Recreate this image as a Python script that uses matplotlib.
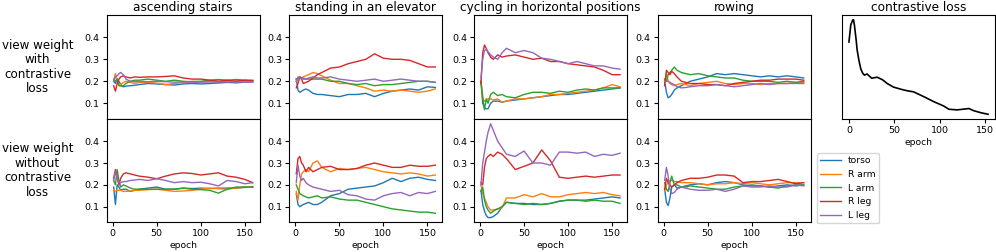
import matplotlib
matplotlib.use("Agg")
import matplotlib.pyplot as plt

# ---------------- data ----------------
epochs = [1, 3, 5, 7, 9, 12, 15, 20, 25, 30, 40, 50, 60, 70, 80, 90, 100, 110, 120, 130, 140, 150, 159]
parts = ["torso", "R arm", "L arm", "R leg", "L leg"]
activities = ["ascending stairs", "standing in an elevator",
              "cycling in horizontal positions", "rowing"]
row_labels = ["view weight\nwith\ncontrastive\nloss",
              "view weight\nwithout\ncontrastive\nloss"]

# order of each list: torso, R arm, L arm, R leg, L leg
stairs_with = [
    [0.2, 0.19, 0.21, 0.2, 0.185, 0.175, 0.178, 0.18, 0.182, 0.185, 0.19, 0.188, 0.185, 0.183, 0.188, 0.19, 0.188, 0.19, 0.192, 0.195, 0.193, 0.196, 0.198],
    [0.2, 0.235, 0.2, 0.18, 0.185, 0.195, 0.2, 0.195, 0.19, 0.195, 0.195, 0.192, 0.185, 0.19, 0.195, 0.2, 0.198, 0.2, 0.2, 0.2, 0.202, 0.2, 0.2],
    [0.21, 0.2, 0.21, 0.18, 0.178, 0.18, 0.19, 0.2, 0.205, 0.205, 0.21, 0.205, 0.2, 0.205, 0.2, 0.198, 0.2, 0.205, 0.208, 0.205, 0.208, 0.205, 0.205],
    [0.18, 0.155, 0.19, 0.21, 0.22, 0.225, 0.22, 0.215, 0.22, 0.218, 0.22, 0.22, 0.222, 0.225, 0.215, 0.21, 0.21, 0.205, 0.2, 0.205, 0.2, 0.205, 0.202],
    [0.2, 0.22, 0.225, 0.235, 0.24, 0.23, 0.21, 0.2, 0.198, 0.2, 0.198, 0.2, 0.198, 0.196, 0.197, 0.196, 0.196, 0.197, 0.196, 0.197, 0.196, 0.196, 0.196],
]
stairs_without = [
    [0.19, 0.11, 0.2, 0.19, 0.175, 0.18, 0.18, 0.17, 0.175, 0.18, 0.185, 0.19, 0.18, 0.18, 0.185, 0.183, 0.185, 0.183, 0.185, 0.185, 0.185, 0.188, 0.19],
    [0.175, 0.17, 0.175, 0.175, 0.175, 0.17, 0.17, 0.172, 0.175, 0.175, 0.178, 0.18, 0.175, 0.17, 0.172, 0.175, 0.18, 0.185, 0.182, 0.18, 0.185, 0.19, 0.19],
    [0.22, 0.2, 0.27, 0.22, 0.19, 0.2, 0.195, 0.185, 0.18, 0.18, 0.18, 0.18, 0.18, 0.18, 0.185, 0.18, 0.178, 0.175, 0.162, 0.18, 0.19, 0.19, 0.19],
    [0.23, 0.27, 0.23, 0.2, 0.23, 0.25, 0.255, 0.25, 0.245, 0.24, 0.235, 0.228, 0.24, 0.25, 0.255, 0.252, 0.245, 0.25, 0.255, 0.24, 0.235, 0.225, 0.21],
    [0.22, 0.26, 0.23, 0.21, 0.21, 0.215, 0.215, 0.22, 0.222, 0.225, 0.22, 0.228, 0.22, 0.21, 0.215, 0.21, 0.212, 0.205, 0.195, 0.22, 0.215, 0.205, 0.21],
]
standing_with = [
    [0.21, 0.16, 0.15, 0.155, 0.16, 0.165, 0.16, 0.145, 0.14, 0.14, 0.135, 0.13, 0.14, 0.14, 0.145, 0.13, 0.145, 0.155, 0.16, 0.165, 0.16, 0.175, 0.172],
    [0.2, 0.21, 0.22, 0.215, 0.22, 0.225, 0.23, 0.24, 0.235, 0.225, 0.205, 0.19, 0.19, 0.18, 0.17, 0.155, 0.16, 0.155, 0.16, 0.155, 0.15, 0.155, 0.165],
    [0.21, 0.215, 0.22, 0.215, 0.21, 0.21, 0.21, 0.21, 0.21, 0.21, 0.2, 0.2, 0.19, 0.185, 0.19, 0.18, 0.185, 0.185, 0.19, 0.195, 0.2, 0.2, 0.195],
    [0.17, 0.19, 0.22, 0.21, 0.19, 0.195, 0.2, 0.215, 0.23, 0.24, 0.26, 0.265, 0.28, 0.29, 0.3, 0.325, 0.305, 0.3, 0.3, 0.295, 0.28, 0.265, 0.265],
    [0.2, 0.22, 0.215, 0.21, 0.215, 0.21, 0.215, 0.22, 0.215, 0.215, 0.22, 0.21, 0.205, 0.2, 0.205, 0.21, 0.2, 0.205, 0.21, 0.205, 0.2, 0.2, 0.195],
]
standing_without = [
    [0.16, 0.11, 0.1, 0.105, 0.11, 0.115, 0.12, 0.11, 0.11, 0.12, 0.15, 0.16, 0.18, 0.185, 0.19, 0.195, 0.21, 0.23, 0.215, 0.23, 0.235, 0.225, 0.22],
    [0.17, 0.13, 0.2, 0.25, 0.26, 0.27, 0.26, 0.3, 0.31, 0.28, 0.26, 0.275, 0.27, 0.275, 0.28, 0.27, 0.26, 0.255, 0.25, 0.255, 0.25, 0.24, 0.245],
    [0.2, 0.18, 0.16, 0.155, 0.15, 0.145, 0.14, 0.145, 0.15, 0.14, 0.145, 0.135, 0.13, 0.13, 0.12, 0.11, 0.1, 0.09, 0.085, 0.08, 0.075, 0.075, 0.07],
    [0.25, 0.32, 0.33, 0.3, 0.29, 0.26, 0.28, 0.26, 0.27, 0.28, 0.285, 0.27, 0.27, 0.275, 0.29, 0.3, 0.29, 0.28, 0.28, 0.29, 0.285, 0.285, 0.29],
    [0.21, 0.29, 0.24, 0.22, 0.23, 0.21, 0.2, 0.19, 0.185, 0.18, 0.17, 0.175, 0.155, 0.15, 0.135, 0.13, 0.15, 0.16, 0.165, 0.15, 0.165, 0.16, 0.17],
]
cycling_with = [
    [0.2, 0.1, 0.08, 0.075, 0.075, 0.1, 0.11, 0.11, 0.105, 0.11, 0.115, 0.12, 0.125, 0.13, 0.135, 0.14, 0.14, 0.145, 0.15, 0.155, 0.16, 0.165, 0.17],
    [0.2, 0.12, 0.11, 0.115, 0.12, 0.12, 0.115, 0.12, 0.105, 0.11, 0.12, 0.12, 0.125, 0.13, 0.14, 0.14, 0.145, 0.15, 0.155, 0.16, 0.17, 0.185, 0.175],
    [0.2, 0.13, 0.07, 0.12, 0.1, 0.14, 0.15, 0.135, 0.14, 0.13, 0.125, 0.14, 0.15, 0.15, 0.145, 0.155, 0.15, 0.16, 0.165, 0.16, 0.17, 0.17, 0.17],
    [0.19, 0.33, 0.365, 0.35, 0.33, 0.31, 0.3, 0.32, 0.31, 0.315, 0.32, 0.31, 0.3, 0.305, 0.29, 0.29, 0.28, 0.275, 0.27, 0.265, 0.25, 0.23, 0.23],
    [0.215, 0.3, 0.34, 0.345, 0.335, 0.32, 0.31, 0.3, 0.33, 0.35, 0.33, 0.34, 0.33, 0.305, 0.3, 0.29, 0.28, 0.29, 0.28, 0.27, 0.27, 0.26, 0.255],
]
cycling_without = [
    [0.175, 0.11, 0.08, 0.06, 0.05, 0.05, 0.055, 0.07, 0.1, 0.12, 0.115, 0.115, 0.11, 0.11, 0.115, 0.125, 0.13, 0.13, 0.13, 0.135, 0.14, 0.145, 0.14],
    [0.2, 0.16, 0.14, 0.12, 0.1, 0.085, 0.085, 0.09, 0.095, 0.14, 0.14, 0.155, 0.145, 0.16, 0.145, 0.145, 0.155, 0.16, 0.165, 0.16, 0.165, 0.155, 0.15],
    [0.17, 0.19, 0.13, 0.1, 0.085, 0.07, 0.08, 0.09, 0.1, 0.12, 0.115, 0.11, 0.115, 0.11, 0.115, 0.125, 0.13, 0.13, 0.125, 0.13, 0.125, 0.125, 0.115],
    [0.21, 0.2, 0.28, 0.32, 0.33, 0.34, 0.33, 0.35, 0.34, 0.32, 0.27, 0.285, 0.3, 0.36, 0.31, 0.235, 0.23, 0.235, 0.24, 0.235, 0.24, 0.245, 0.245],
    [0.2, 0.3, 0.35, 0.4, 0.44, 0.48, 0.45, 0.4, 0.37, 0.34, 0.33, 0.355, 0.3, 0.3, 0.29, 0.35, 0.35, 0.345, 0.35, 0.33, 0.34, 0.335, 0.345],
]
rowing_with = [
    [0.2, 0.15, 0.125, 0.13, 0.14, 0.16, 0.17, 0.18, 0.19, 0.2, 0.21, 0.22, 0.235, 0.23, 0.235, 0.23, 0.225, 0.22, 0.225, 0.22, 0.225, 0.22, 0.215],
    [0.19, 0.235, 0.2, 0.19, 0.185, 0.18, 0.185, 0.19, 0.185, 0.18, 0.19, 0.195, 0.2, 0.19, 0.185, 0.19, 0.19, 0.185, 0.19, 0.19, 0.19, 0.195, 0.195],
    [0.21, 0.2, 0.23, 0.24, 0.25, 0.265, 0.25, 0.24, 0.235, 0.23, 0.235, 0.225, 0.22, 0.215, 0.215, 0.205, 0.2, 0.2, 0.2, 0.195, 0.2, 0.195, 0.2],
    [0.18, 0.25, 0.24, 0.23, 0.245, 0.235, 0.22, 0.2, 0.195, 0.19, 0.19, 0.185, 0.185, 0.18, 0.19, 0.195, 0.2, 0.205, 0.205, 0.21, 0.21, 0.21, 0.205],
    [0.2, 0.2, 0.2, 0.195, 0.19, 0.185, 0.175, 0.17, 0.172, 0.175, 0.18, 0.18, 0.185, 0.18, 0.175, 0.18, 0.185, 0.19, 0.185, 0.19, 0.19, 0.19, 0.19],
]
rowing_without = [
    [0.18, 0.12, 0.105, 0.14, 0.19, 0.2, 0.185, 0.19, 0.195, 0.2, 0.205, 0.2, 0.21, 0.215, 0.21, 0.2, 0.195, 0.195, 0.19, 0.195, 0.2, 0.195, 0.2],
    [0.17, 0.2, 0.21, 0.22, 0.22, 0.215, 0.215, 0.21, 0.21, 0.21, 0.205, 0.2, 0.205, 0.205, 0.21, 0.205, 0.21, 0.205, 0.2, 0.205, 0.21, 0.21, 0.21],
    [0.21, 0.18, 0.17, 0.21, 0.24, 0.2, 0.2, 0.19, 0.19, 0.195, 0.19, 0.185, 0.18, 0.18, 0.19, 0.195, 0.2, 0.195, 0.19, 0.185, 0.195, 0.2, 0.2],
    [0.18, 0.23, 0.21, 0.2, 0.19, 0.2, 0.21, 0.22, 0.225, 0.23, 0.23, 0.235, 0.245, 0.245, 0.24, 0.21, 0.215, 0.215, 0.22, 0.225, 0.215, 0.205, 0.21],
    [0.22, 0.28, 0.24, 0.18, 0.16, 0.165, 0.18, 0.19, 0.185, 0.18, 0.175, 0.175, 0.18, 0.17, 0.18, 0.195, 0.19, 0.19, 0.195, 0.19, 0.19, 0.2, 0.195],
]

loss_epochs = [0, 2, 4, 5, 6, 8, 9, 11, 13, 15, 17, 20, 25, 31, 37, 42, 49, 57, 64, 71, 82, 93, 104, 110, 119, 132, 137, 145, 153]
loss_values = [0.737, 0.9, 0.945, 0.95, 0.9, 0.75, 0.66, 0.56, 0.48, 0.44, 0.42, 0.43, 0.39, 0.40, 0.375, 0.34, 0.305, 0.285, 0.27, 0.26, 0.215, 0.167, 0.125, 0.093, 0.087, 0.10, 0.08, 0.06, 0.045]

rows = [
    [stairs_with, standing_with, cycling_with, rowing_with],
    [stairs_without, standing_without, cycling_without, rowing_without],
]
colors = ["tab:blue", "tab:orange", "tab:green", "tab:red", "tab:purple"]

# ---------------- layout ----------------
W, H = 996.0, 252.0
fig = plt.figure(figsize=(W / 100, H / 100), dpi=100)

lefts = [106.7, 289.3, 474.0, 657.7]
width = 153.0
row_top = [15.0, 119.0]
row_bot = [119.0, 222.3]

tick_fs = 6.8
title_fs = 8.7
label_fs = 6.6
row_fs = 8.6

axes = []
first = None
for r in range(2):
    for c in range(4):
        rect = [lefts[c] / W, (H - row_bot[r]) / H, width / W,
                (row_bot[r] - row_top[r]) / H]
        ax = fig.add_axes(rect, sharey=first, sharex=first)
        if first is None:
            first = ax
        for k, part in enumerate(parts):
            ax.plot(epochs, rows[r][c][k], color=colors[k], lw=1.0, label=part)
        ax.set_yticks([0.1, 0.2, 0.3, 0.4])
        ax.set_xticks([0, 50, 100, 150])
        ax.tick_params(labelsize=tick_fs, length=3, width=0.8, pad=2)
        if r == 0:
            ax.set_title(activities[c], fontsize=title_fs, pad=3)
            ax.tick_params(axis="x", bottom=False, labelbottom=False)
        else:
            ax.set_xlabel("epoch", fontsize=label_fs, labelpad=2)
        axes.append(ax)

for r in range(2):
    yc = 1 - (row_top[r] + row_bot[r]) / 2 / H
    fig.text(37.5 / W, yc, row_labels[r], ha="center", va="center",
             multialignment="center", fontsize=row_fs, linespacing=1.15)

# contrastive loss panel
axl = fig.add_axes([842 / W, (H - 119) / H, width / W, 104 / H])
axl.plot(loss_epochs, loss_values, color="black", lw=1.2)
axl.set_yticks([])
axl.set_xticks([0, 50, 100, 150])
axl.tick_params(labelsize=tick_fs, length=3, width=0.8, pad=2)
axl.set_title("contrastive loss", fontsize=title_fs, pad=3)
axl.set_xlabel("epoch", fontsize=label_fs, labelpad=2)

handles, labels = axes[0].get_legend_handles_labels()
fig.legend(handles, labels, loc="upper left",
           bbox_to_anchor=(814 / W, (H - 150) / H), fontsize=label_fs,
           frameon=True, handlelength=2.2, borderaxespad=0.3)

fig.savefig("out.png", dpi=100)
